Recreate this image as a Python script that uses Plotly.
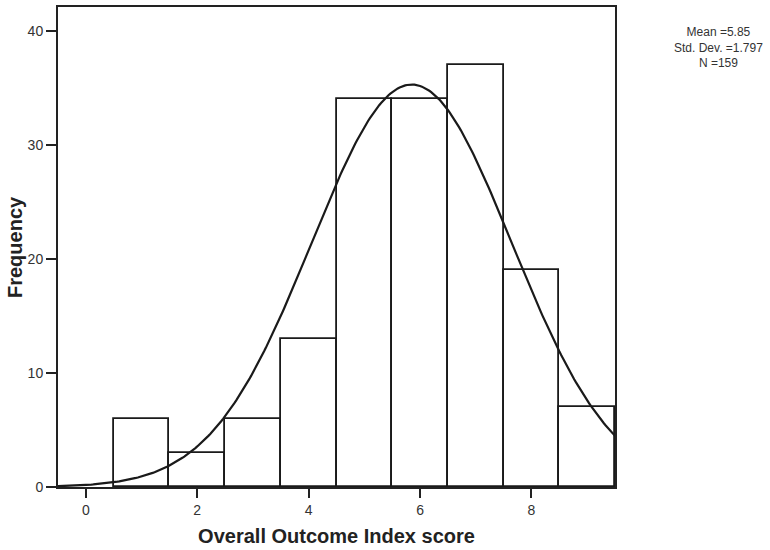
import numpy as np
import plotly.graph_objects as go

# Histogram data (bins centred on integer scores, width 1)
scores = [1, 2, 3, 4, 5, 6, 7, 8, 9]
frequencies = [6, 3, 6, 13, 34, 34, 37, 19, 7]

# Summary statistics shown on the chart
mean_value = 5.85
std_dev = 1.797
n_total = 159

x_ticks = [0, 2, 4, 6, 8]
y_ticks = [0, 10, 20, 30, 40]

# Normal curve implied by the summary statistics (scaled to bin width 1)
xc = np.linspace(-0.5, 9.5, 301)
yc = n_total / (std_dev * np.sqrt(2 * np.pi)) * np.exp(-0.5 * ((xc - mean_value) / std_dev) ** 2)

fig = go.Figure()
fig.add_trace(go.Bar(
    x=scores, y=frequencies, width=1,
    marker=dict(color="white", line=dict(color="#1a1a1a", width=1.8)),
    showlegend=False, hoverinfo="x+y",
))
fig.add_trace(go.Scatter(
    x=xc, y=yc, mode="lines",
    line=dict(color="#1a1a1a", width=2.2), showlegend=False, hoverinfo="skip",
))

axis_font = dict(family="Liberation Sans, Arial, sans-serif", size=14, color="#333333")
title_font = dict(family="Liberation Sans, Arial, sans-serif", size=20, color="#222222")

fig.update_layout(
    width=770, height=550,
    margin=dict(l=58, r=155, t=5, b=63),
    paper_bgcolor="white", plot_bgcolor="white",
    bargap=0,
    xaxis=dict(
        range=[-0.5, 9.5], tickvals=x_ticks, ticks="outside", ticklen=9, tickwidth=2,
        tickcolor="#222222", showline=True, linecolor="#222222", linewidth=2,
        mirror=True, showgrid=False, zeroline=False, tickfont=axis_font,
        title=dict(text="<b>Overall Outcome Index score</b>", font=title_font, standoff=12),
    ),
    yaxis=dict(
        range=[0, 42.1], tickvals=y_ticks, ticks="outside", ticklen=10, tickwidth=2,
        tickcolor="#222222", showline=True, linecolor="#222222", linewidth=2,
        mirror=True, showgrid=False, zeroline=False, tickfont=axis_font,
    ),
    annotations=[
        dict(
            xref="paper", yref="paper", x=1.185, y=0.966, xanchor="center", yanchor="top",
            text="Mean =5.85<br>Std. Dev. =1.797<br>N =159", showarrow=False, align="center",
            font=dict(family="Liberation Sans, Arial, sans-serif", size=12, color="#333333"),
        ),
        dict(
            xref="paper", yref="paper", x=-0.0772, y=0.5, xanchor="center", yanchor="middle",
            text="<b>Frequency</b>", textangle=-90, showarrow=False, font=title_font,
        ),
    ],
)

fig.write_html(
    "out.html",
    config={"displayModeBar": False},
    post_script="document.body.style.margin='0';document.body.style.overflow='hidden';",
)
